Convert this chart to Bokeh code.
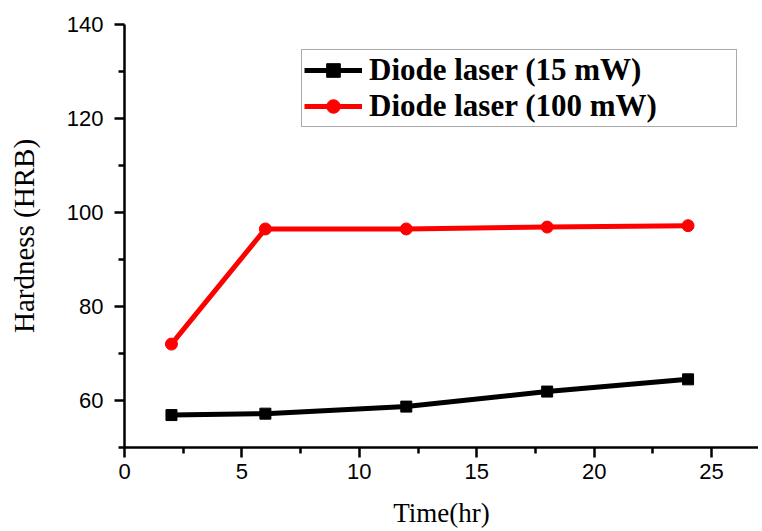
from bokeh.plotting import figure
from bokeh.models import Legend, LegendItem, FixedTicker, Range1d
from bokeh.embed import file_html
from bokeh.resources import INLINE

time_hr = [2, 6, 12, 18, 24]
hard_15mw = [56.9, 57.2, 58.7, 61.9, 64.5]
hard_100mw = [72.0, 96.5, 96.5, 96.9, 97.2]
series_labels = ["Diode laser (15 mW)", "Diode laser (100 mW)"]
x_ticks = [0, 5, 10, 15, 20, 25]
x_minor = [2.5, 7.5, 12.5, 17.5, 22.5]
y_ticks = [60, 80, 100, 120, 140]
y_minor = [50, 70, 90, 110, 130]
x_title = "Time(hr)"
y_title = "Hardness (HRB)"

p = figure(width=758, height=531, output_backend="svg", toolbar_location=None,
           x_range=Range1d(0, 27), y_range=Range1d(50, 140),
           min_border_left=124, min_border_top=24, min_border_bottom=84,
           min_border_right=0)
p.outline_line_color = None
p.grid.visible = False
p.background_fill_color = "white"
p.border_fill_color = "white"

l1 = p.line(time_hr, hard_15mw, line_color="black", line_width=5)
s1 = p.scatter(time_hr, hard_15mw, marker="square", size=11, fill_color="black", line_color="black")
l2 = p.line(time_hr, hard_100mw, line_color="#ff0000", line_width=5)
s2 = p.scatter(time_hr, hard_100mw, marker="circle", size=12, fill_color="#ff0000", line_color="#ff0000")

for ax in (p.xaxis[0], p.yaxis[0]):
    ax.axis_line_width = 2.5
    ax.axis_line_color = "black"
    ax.major_tick_line_width = 2.5
    ax.minor_tick_line_width = 2.5
    ax.major_tick_line_color = "black"
    ax.minor_tick_line_color = "black"
    ax.major_tick_out = 10
    ax.major_tick_in = 0
    ax.minor_tick_out = 6
    ax.minor_tick_in = 0
    ax.major_label_text_font = "Liberation Sans"
    ax.major_label_text_font_size = "22px"
    ax.major_label_text_color = "black"
    ax.axis_label_text_font = "Liberation Serif"
    ax.axis_label_text_font_style = "normal"
    ax.axis_label_text_color = "black"

p.xaxis.ticker = FixedTicker(ticks=x_ticks, minor_ticks=x_minor)
p.yaxis.ticker = FixedTicker(ticks=y_ticks, minor_ticks=y_minor)
p.xaxis.axis_label = x_title
p.yaxis.axis_label = y_title
p.xaxis.axis_label_text_font_size = "27px"
p.yaxis.axis_label_text_font_size = "29px"
p.xaxis.major_label_standoff = 6
p.yaxis.major_label_standoff = 11
p.xaxis.axis_label_standoff = 16
p.yaxis.axis_label_standoff = 24

legend = Legend(items=[LegendItem(label=series_labels[0], renderers=[l1, s1]),
                       LegendItem(label=series_labels[1], renderers=[l2, s2])],
                location=(177, 320), orientation="vertical")
legend.label_text_font = "Liberation Serif"
legend.label_text_font_style = "bold"
legend.label_text_font_size = "31px"
legend.label_text_color = "black"
legend.border_line_color = "#555555"
legend.border_line_width = 1.5
legend.background_fill_alpha = 1
legend.padding = 2
legend.spacing = 0
legend.glyph_width = 58
legend.glyph_height = 34
legend.label_height = 34
legend.label_width = 365
legend.label_standoff = 7
legend.margin = 0
p.add_layout(legend)

open("out.html", "w").write(file_html(p, INLINE))
